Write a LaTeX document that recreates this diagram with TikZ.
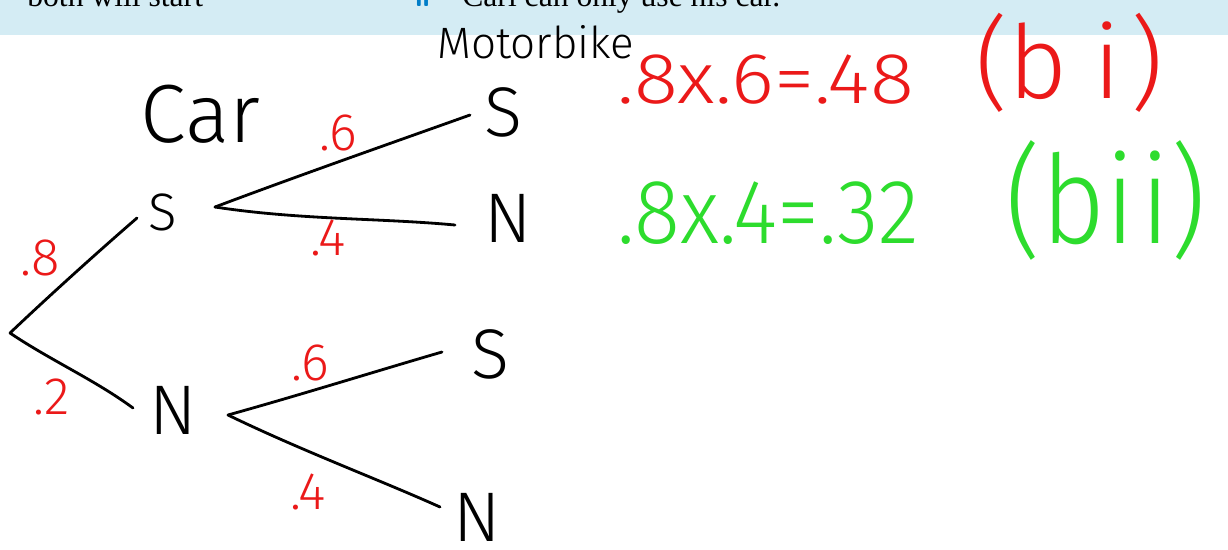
\documentclass[tikz,border=0pt]{standalone}
\usepackage{fontspec}
\setmainfont{Liberation Serif}
\newfontfamily\hand{Fira Sans Light}
\definecolor{band}{RGB}{212,236,244}
\definecolor{hred}{RGB}{235,25,25}
\definecolor{hgreen}{RGB}{45,220,45}
\definecolor{iiblue}{RGB}{0,125,200}
\tikzset{
  branch/.style={line width=1.6pt, line cap=round, line join=round},
  outcome/.style={font=\hand\fontsize{40}{40}\selectfont, inner sep=0pt},
  prob/.style={text=hred, font=\hand\fontsize{30}{30}\selectfont, inner sep=0pt},
  header/.style={anchor=base west, inner sep=0pt, font=\fontsize{18}{18}\selectfont},
  result/.style={inner sep=0pt, anchor=base west},
}
\begin{document}
\begin{tikzpicture}[x=0.02cm,y=-0.02cm]
\useasboundingbox (0,0) rectangle (1228,549);
\fill[white] (0,0) rectangle (1228,549);
% header band
\fill[band] (0,0) rectangle (1228,35);
\begin{scope}
  \clip (0,0) rectangle (1228,35);
  \node[header] (h1) at (27,6) {both will start};
  \node[header, text=iiblue, font=\sffamily\bfseries\fontsize{16}{16}\selectfont] (h2) at (415,6) {ii};
  \node[header] (h3) at (462,6) {Carl can only use his car.};
\end{scope}

% headings
\node[font=\hand\fontsize{25}{25}\selectfont, inner sep=0pt, anchor=base west] (moto) at (437,58) {Motorbike};
\node[font=\hand\fontsize{47}{47}\selectfont, inner sep=0pt, anchor=base west] (car) at (140,142) {Car};

% outcome labels
\node[outcome, font=\hand\fontsize{30}{30}\selectfont] (s1) at (163,212) {S};
\node[outcome] (n1) at (173,410) {N};
\node[outcome] (ss) at (503,112) {S};
\node[outcome] (sn) at (508,218) {N};
\node[outcome] (ns) at (490,354) {S};
\node[outcome] (nn) at (477,517) {N};

% branch points
\coordinate (root) at (10,333);
\coordinate (s1in) at (137,218);
\coordinate (n1in) at (133,408);
\coordinate (s1out) at (215,207);
\coordinate (n1out) at (228,415);
\coordinate (ssin) at (470,115);
\coordinate (snin) at (455,225);
\coordinate (nsin) at (442,352);
\coordinate (nnin) at (440,507);

\draw[branch] (s1in) .. controls (100,250) and (50,295) .. (root);
\draw[branch] (root) .. controls (50,360) and (95,380) .. (n1in);
\draw[branch] (s1out) .. controls (300,175) and (400,140) .. (ssin);
\draw[branch] (s1out) .. controls (300,220) and (380,218) .. (snin);
\draw[branch] (n1out) .. controls (300,395) and (380,370) .. (nsin);
\draw[branch] (n1out) .. controls (300,450) and (380,480) .. (nnin);

% probabilities
\node[prob] (p8) at (40,258) {.8};
\node[prob] (p2) at (52,397) {.2};
\node[prob] (p6a) at (338,133) {.6};
\node[prob] (p4a) at (328,238) {.4};
\node[prob] (p6b) at (310,363) {.6};
\node[prob] (p4b) at (308,492) {.4};

% results
\node[result, text=hred, font=\hand\fontsize{41}{41}\selectfont] (r1) at (617,103) {\scalebox{1.13}[1]{.8x.6=.48}};
\node[result, text=hred, font=\hand\fontsize{58}{58}\selectfont] (r1b) at (975,98) {(b\hspace{0.25em}i\hspace{0.1em})};
\node[result, text=hgreen, font=\hand\fontsize{52}{52}\selectfont] (r2) at (617,243) {\scalebox{0.93}[1]{.8x.4=.32}};
\node[result, text=hgreen, font=\hand\fontsize{70}{70}\selectfont] (r2b) at (1005,243) {\scalebox{0.9}[1]{(bi\hspace{0.05em}i)}};
\end{tikzpicture}
\end{document}
